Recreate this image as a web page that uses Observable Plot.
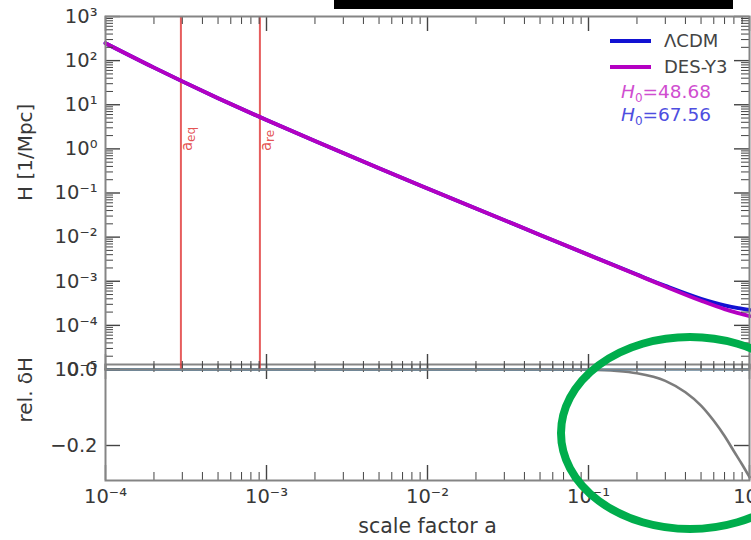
<!DOCTYPE html>
<html><head><meta charset="utf-8">
<script src="https://cdn.jsdelivr.net/npm/d3@7"></script>
<script src="https://cdn.jsdelivr.net/npm/@observablehq/plot@0.6"></script>
<style>
body{margin:0;background:#fff;font-family:"DejaVu Sans",sans-serif;}
#wrap{position:relative;width:751px;height:540px;overflow:hidden;background:#fff;}
#wrap svg{position:absolute;left:0;overflow:visible;}
</style></head><body><div id="wrap"></div>
<script>
// ---- data ----
const scaleA = [1e-4, 2e-4, 3e-4, 5e-4, 1e-3, 2e-3, 5e-3, 1e-2, 2e-2, 5e-2, 0.1, 0.2, 0.3, 0.5, 0.7, 0.85, 1];
const hLCDM  = [248, 69.4, 33.8, 14.1, 4.5, 1.50, 0.364, 0.127, 0.0446, 0.01124, 0.00397, 1.414e-3, 7.85e-4, 4.0e-4, 2.84e-4, 2.46e-4, 2.25e-4];
const hDES   = [248, 69.4, 33.8, 14.1, 4.5, 1.50, 0.364, 0.127, 0.0446, 0.01124, 0.00396, 1.40e-3, 7.6e-4, 3.62e-4, 2.33e-4, 1.89e-4, 1.62e-4];
const deltaA = [1e-4, 1e-3, 1e-2, 0.05, 0.1, 0.15, 0.2, 0.3, 0.4, 0.5, 0.6, 0.7, 0.8, 0.9, 1];
const deltaH = [0, 0, 0, 0, -0.001, -0.004, -0.01, -0.03, -0.06, -0.095, -0.135, -0.175, -0.215, -0.25, -0.283];
const markerA = [2.94e-4, 9.1e-4];
const markerSub = ["eq", "re"];
const seriesNames = ["ΛCDM", "DES-Y3"];
const h0Values = ["48.68", "67.56"];
const majorX = [1e-4, 1e-3, 1e-2, 1e-1, 1];
const majorYTop = [1e-5, 1e-4, 1e-3, 1e-2, 1e-1, 1, 10, 100, 1000];
const majorYBot = [0, -0.2];
const yBotLabels = ["0.0", "−0.2"];
const yTopTitle = "H [1/Mpc]", yBotTitle = "rel. δH", xTitle = "scale factor a";

// minor log ticks
const minorX = d3.range(-4, 0).flatMap(e => d3.range(2, 10).map(m => m * 10 ** e));
const minorYTop = d3.range(-5, 3).flatMap(e => d3.range(2, 10).map(m => m * 10 ** e));

const SUP = {"-":"⁻","0":"⁰","1":"¹","2":"²","3":"³","4":"⁴","5":"⁵","6":"⁶","7":"⁷","8":"⁸","9":"⁹"};
const pow10 = d => "10" + String(Math.round(Math.log10(d))).split("").map(c => SUP[c]).join("");

const W = 751, ML = 105, MR = 2;
const tickCol = "#444", frameCol = "#858585", textCol = "#383838";
const MAJ = 15, MIN = 8;

// ---- top panel ----
const topH = 372, topMT = 16, topMB = 3;
const pw = W - ML - MR, phTop = topH - topMT - topMB;
const topPlot = Plot.plot({
  width: W, height: topH, marginTop: topMT, marginBottom: topMB, marginLeft: ML, marginRight: MR,
  style: {fontFamily: "DejaVu Sans", background: "transparent", overflow: "visible"},
  x: {type: "log", domain: [1e-4, 1], axis: null},
  y: {type: "log", domain: [1e-5, 1e3], axis: null},
  marks: [
    Plot.ruleX(markerA, {x: d => d, stroke: "#e03535", strokeOpacity: 0.8, strokeWidth: 2}),
    Plot.text(markerA, {x: d => d, y: 0.9, text: () => "a", rotate: -90, textAnchor: "start", dx: 6, fontSize: 15, fill: "#e03535", fillOpacity: 0.85}),
    Plot.text(markerA, {x: d => d, y: 0.9, text: (d, i) => markerSub[i], rotate: -90, textAnchor: "start", dx: 10, dy: -9, fontSize: 12, fill: "#e03535", fillOpacity: 0.85}),
    Plot.line(scaleA, {x: d => d, y: (d, i) => hLCDM[i], stroke: "#1212d2", strokeWidth: 3.8, curve: "monotone-x"}),
    Plot.line(scaleA, {x: d => d, y: (d, i) => hDES[i], stroke: "#b400c2", strokeWidth: 3.8, curve: "monotone-x"}),
    // x ticks (top edge downward, bottom edge upward)
    Plot.tickX(majorX, {x: d => d, insetBottom: phTop - MAJ, stroke: tickCol, strokeWidth: 1.4}),
    Plot.tickX(minorX, {x: d => d, insetBottom: phTop - MIN, stroke: tickCol, strokeWidth: 1}),
    Plot.tickX(majorX, {x: d => d, insetTop: phTop - MAJ, stroke: tickCol, strokeWidth: 1.4}),
    Plot.tickX(minorX, {x: d => d, insetTop: phTop - MIN, stroke: tickCol, strokeWidth: 1}),
    // y ticks (left inward, right inward)
    Plot.tickY(majorYTop, {y: d => d, insetRight: pw - MAJ, stroke: tickCol, strokeWidth: 1.4}),
    Plot.tickY(minorYTop, {y: d => d, insetRight: pw - MIN, stroke: tickCol, strokeWidth: 1}),
    Plot.tickY(majorYTop, {y: d => d, insetLeft: pw - MAJ, stroke: tickCol, strokeWidth: 1.4}),
    Plot.tickY(minorYTop, {y: d => d, insetLeft: pw - MIN, stroke: tickCol, strokeWidth: 1}),
    Plot.axisY({anchor: "left", ticks: majorYTop, tickSize: 0, tickPadding: 8, tickFormat: pow10, fontSize: 19.5, fill: textCol, label: null}),
    Plot.text([yTopTitle], {text: d => d, frameAnchor: "left", rotate: -90, dx: -80, dy: 8, fontSize: 20, fill: textCol}),
    Plot.frame({stroke: frameCol, strokeWidth: 2})
  ]
});
topPlot.style.top = "0px";

// ---- bottom panel ----
const botTop = 362, botH = 178, botMT = 2, botMB = 60;
const phBot = botH - botMT - botMB;
const botPlot = Plot.plot({
  width: W, height: botH, marginTop: botMT, marginBottom: botMB, marginLeft: ML, marginRight: MR,
  style: {fontFamily: "DejaVu Sans", background: "transparent", overflow: "visible"},
  x: {type: "log", domain: [1e-4, 1], axis: null},
  y: {domain: [-0.292, 0.013], axis: null},
  marks: [
    Plot.line(deltaA, {x: d => d, y: (d, i) => deltaH[i], stroke: "#6e6e6e", strokeWidth: 2.6, strokeOpacity: 0.9, curve: "monotone-x"}),
    Plot.ruleY([0], {stroke: "#1f77b4", strokeOpacity: 0.65, strokeWidth: 2.5}),
    Plot.tickX(majorX, {x: d => d, insetBottom: phBot - MAJ, stroke: tickCol, strokeWidth: 1.4}),
    Plot.tickX(minorX, {x: d => d, insetBottom: phBot - MIN, stroke: tickCol, strokeWidth: 1}),
    Plot.tickX(majorX, {x: d => d, insetTop: phBot - MAJ, stroke: tickCol, strokeWidth: 1.4}),
    Plot.tickX(minorX, {x: d => d, insetTop: phBot - MIN, stroke: tickCol, strokeWidth: 1}),
    Plot.tickY(majorYBot, {y: d => d, insetRight: pw - MAJ, stroke: tickCol, strokeWidth: 1.4}),
    Plot.tickY(majorYBot, {y: d => d, insetLeft: pw - MAJ, stroke: tickCol, strokeWidth: 1.4}),
    Plot.axisY({anchor: "left", ticks: majorYBot, tickSize: 0, tickPadding: 8, tickFormat: d => yBotLabels[majorYBot.indexOf(d)], fontSize: 19.5, fill: textCol, label: null}),
    Plot.axisX({anchor: "bottom", ticks: majorX, tickSize: 0, tickPadding: 9, tickFormat: pow10, fontSize: 19.5, fill: textCol, label: null}),
    Plot.text([yBotTitle], {text: d => d, frameAnchor: "left", rotate: -90, dx: -80, fontSize: 20, fill: textCol}),
    Plot.text([xTitle], {text: d => d, frameAnchor: "bottom", dy: 52, fontSize: 20.5, fill: textCol}),
    Plot.frame({stroke: frameCol, strokeWidth: 2})
  ]
});
botPlot.style.top = botTop + "px";

const wrap = document.getElementById("wrap");
wrap.appendChild(botPlot);
wrap.appendChild(topPlot);

// ---- overlay: legend, black bar, green ellipse annotation ----
const ov = d3.select(wrap).append("svg").attr("width", W).attr("height", 540).style("top", "0px")
  .style("font-family", "DejaVu Sans");
const legCols = ["#1212d2", "#b400c2"];
const leg = ov.append("g");
seriesNames.forEach((n, i) => {
  const y = 41 + i * 26;
  leg.append("line").attr("x1", 610).attr("x2", 651).attr("y1", y).attr("y2", y).attr("stroke", legCols[i]).attr("stroke-width", 3.8);
  leg.append("text").attr("x", 664).attr("y", y).attr("dy", "0.35em").attr("font-size", 18).attr("fill", "#444").text(n);
});
const h0Cols = ["#d04ed0", "#4e4ee0"];
h0Values.forEach((v, i) => {
  const t = leg.append("text").attr("x", 621).attr("y", 92 + i * 23).attr("dy", "0.35em").attr("font-size", 18.5).attr("fill", h0Cols[i]);
  t.append("tspan").attr("font-style", "italic").text("H");
  t.append("tspan").attr("font-size", 12).attr("dy", 4).text("0");
  t.append("tspan").attr("dy", -4).text("=" + v);
});
ov.append("rect").attr("x", 334).attr("y", 0).attr("width", 399).attr("height", 9).attr("fill", "#000");
ov.append("ellipse").attr("cx", 690).attr("cy", 433).attr("rx", 129).attr("ry", 96)
  .attr("fill", "none").attr("stroke", "#00ad4c").attr("stroke-width", 8);
</script></body></html>
